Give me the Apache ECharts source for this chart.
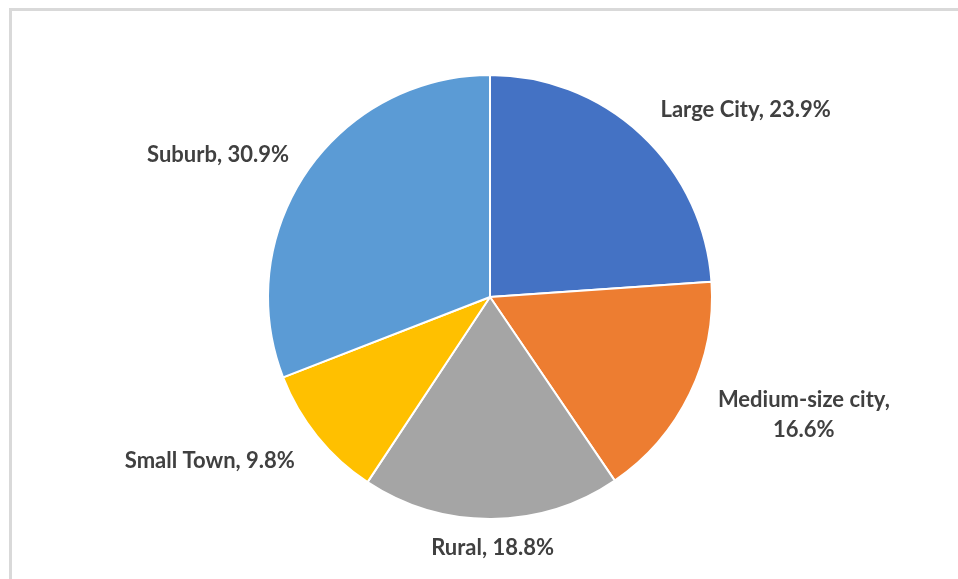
<!DOCTYPE html>
<html>
<head>
<meta charset="utf-8">
<script src="https://cdn.jsdelivr.net/npm/echarts@6/dist/echarts.min.js"></script>
<style>
  html, body { margin: 0; padding: 0; background: #fff; overflow: hidden; }
  #frame {
    position: absolute; left: 9px; top: 8px; width: 1000px; height: 700px;
    border-left: 3px solid #d9d9d9; border-top: 3px solid #d9d9d9; box-sizing: border-box;
  }
  #chart { position: absolute; left: 0; top: 0; width: 958px; height: 579px; }
</style>
</head>
<body>
<div id="frame"></div>
<div id="chart"></div>
<script>
// Share of respondents by type of community (%)
const categories = ['Large City', 'Medium-size city', 'Rural', 'Small Town', 'Suburb'];
const shares = [23.9, 16.6, 18.8, 9.8, 30.9];
const colors = ['#4472C4', '#ED7D31', '#A5A5A5', '#FFC000', '#5B9BD5'];

// Label placement: radial offset and horizontal offset from the rim for each slice
const labelRadial = [34, 48, 29, 39, 30];
const labelHorizontal = [81, 71, 1, 77, 64];
// Category names that wrap onto a second line
const wrapNames = { 'Medium-size city': true };

const chart = echarts.init(document.getElementById('chart'), null, { renderer: 'canvas' });

const data = categories.map((name, i) => ({
  name: name,
  value: shares[i],
  itemStyle: { color: colors[i] },
  labelLine: { show: false, length: labelRadial[i], length2: labelHorizontal[i] }
}));

chart.setOption({
  animation: false,
  series: [{
    type: 'pie',
    center: [490, 297],
    radius: 222,
    startAngle: 90,
    clockwise: true,
    avoidLabelOverlap: false,
    data: data,
    itemStyle: { borderColor: '#ffffff', borderWidth: 2 },
    label: {
      show: true,
      position: 'outside',
      alignTo: 'none',
      distanceToLabelLine: 0,
      width: 240,
      overflow: 'none',
      formatter: function (p) {
        const v = p.value.toFixed(1) + '%';
        return wrapNames[p.name]
          ? '{t|' + p.name + ',}\n{t|' + v + '}'
          : '{t|' + p.name + ', ' + v + '}';
      },
      rich: {
        t: {
          align: 'center',
          fontFamily: 'Lato',
          fontWeight: 'bold',
          fontSize: 22,
          lineHeight: 30,
          color: '#404040'
        }
      }
    },
    labelLine: { show: false },
    labelLayout: function () {
      return { align: 'center', verticalAlign: 'middle' };
    }
  }]
});
</script>
</body>
</html>
